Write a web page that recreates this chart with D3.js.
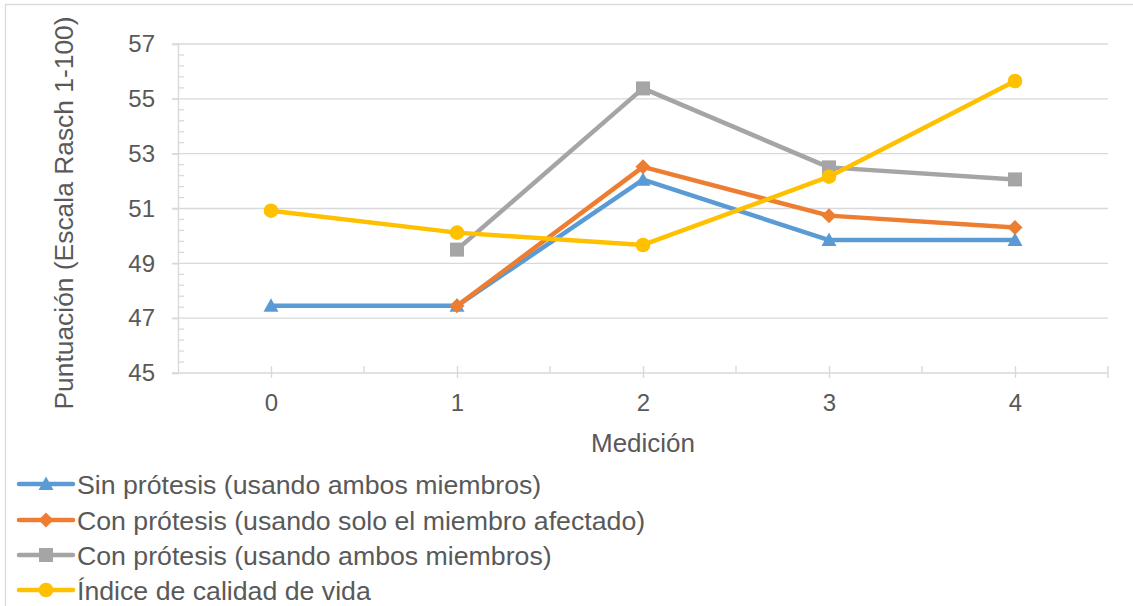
<!DOCTYPE html>
<html><head><meta charset="utf-8">
<script src="https://cdn.jsdelivr.net/npm/d3@7"></script>
<style>body{margin:0;background:#fff;}svg{display:block;font-family:"Liberation Sans",Arial,sans-serif;}</style>
</head><body>
<svg id="chart" width="1133" height="606"></svg>
<script>
const categories = [0, 1, 2, 3, 4];
const sinProtesis = [47.45, 47.45, 52.05, 49.85, 49.85];
const conProtesisAfectado = [null, 47.45, 52.52, 50.74, 50.31];
const conProtesisAmbos = [null, 49.50, 55.38, 52.50, 52.06];
const indiceCalidad = [50.92, 50.12, 49.67, 52.16, 55.65];
const yTicks = [45, 47, 49, 51, 53, 55, 57];
const seriesNames = ["Sin prótesis (usando ambos miembros)", "Con prótesis (usando solo el miembro afectado)", "Con prótesis (usando ambos miembros)", "Índice de calidad de vida"];

const series = [
  {name: seriesNames[0], values: sinProtesis, color: "#5B9BD5", marker: "triangle"},
  {name: seriesNames[1], values: conProtesisAfectado, color: "#ED7D31", marker: "diamond"},
  {name: seriesNames[2], values: conProtesisAmbos, color: "#A5A5A5", marker: "square"},
  {name: seriesNames[3], values: indiceCalidad, color: "#FFC000", marker: "circle"}
];

const svg = d3.select("#chart");
const textColor = "#595959", gridColor = "#d9d9d9";

svg.append("rect").attr("x", 5.5).attr("y", 4.5).attr("width", 1150).attr("height", 640)
  .attr("fill", "#fff").attr("stroke", gridColor).attr("stroke-width", 1.3);

const x = d3.scaleLinear().domain([-0.5, 4.5]).range([178, 1108]);
const y = d3.scaleLinear().domain([45, 57]).range([373, 44]);

// gridlines
svg.append("g").selectAll("line").data(yTicks.filter(t => t !== 45)).join("line")
  .attr("x1", 172).attr("x2", 1108).attr("y1", d => y(d)).attr("y2", d => y(d))
  .attr("stroke", gridColor).attr("stroke-width", 1.4);

// y axis
const yAxis = d3.axisLeft(y).tickValues(yTicks).tickSize(6).tickPadding(17).tickFormat(d3.format("d"));
const gy = svg.append("g").attr("transform", "translate(178,0)").call(yAxis);
gy.select(".domain").attr("stroke", gridColor).attr("stroke-width", 1.4);
gy.selectAll(".tick line").attr("stroke", gridColor).attr("stroke-width", 1.4);
gy.selectAll(".tick text").attr("fill", textColor).attr("font-size", 24).attr("font-family", "Liberation Sans, Arial, sans-serif");
const minorY = d3.range(45, 57.001, 0.4).filter(v => Math.abs((v - 45) % 2) > 0.01 && Math.abs((v - 45) % 2 - 2) > 0.01);
svg.append("g").selectAll("line").data(minorY).join("line")
  .attr("x1", 178).attr("x2", 184).attr("y1", d => y(d)).attr("y2", d => y(d))
  .attr("stroke", gridColor).attr("stroke-width", 1.3);

// x axis
const xAxis = d3.axisBottom(x).tickValues(categories).tickSize(5).tickPadding(16).tickFormat(d3.format("d"));
const gx = svg.append("g").attr("transform", "translate(0,373)").call(xAxis);
gx.select(".domain").attr("stroke", gridColor).attr("stroke-width", 1.4).attr("d", "M172,0H1108");
gx.selectAll(".tick line").attr("stroke", gridColor).attr("stroke-width", 1.4).attr("y1", -7);
gx.selectAll(".tick text").attr("fill", textColor).attr("font-size", 24).attr("font-family", "Liberation Sans, Arial, sans-serif");
const minorX = [0.5, 1.5, 2.5, 3.5];
svg.append("g").selectAll("line").data(minorX).join("line")
  .attr("x1", d => x(d)).attr("x2", d => x(d)).attr("y1", 366).attr("y2", 373)
  .attr("stroke", gridColor).attr("stroke-width", 1.3);
svg.append("line").attr("x1", x(4.5)).attr("x2", x(4.5)).attr("y1", 366).attr("y2", 378)
  .attr("stroke", gridColor).attr("stroke-width", 1.4);

// axis titles
svg.append("text").attr("x", 643).attr("y", 452).attr("text-anchor", "middle")
  .attr("font-size", 26).attr("fill", textColor).text("Medición");
svg.append("text").attr("transform", "translate(73,213) rotate(-90)").attr("text-anchor", "middle")
  .attr("font-size", 26.4).attr("fill", textColor).text("Puntuación (Escala Rasch 1-100)");

// markers
function drawMarker(g, type, cx, cy, color) {
  if (type === "triangle") {
    g.append("path").attr("d", `M${cx},${cy-7.5}L${cx+7.5},${cy+6}L${cx-7.5},${cy+6}Z`).attr("fill", color);
  } else if (type === "diamond") {
    g.append("path").attr("d", `M${cx},${cy-7.5}L${cx+7.5},${cy}L${cx},${cy+7.5}L${cx-7.5},${cy}Z`).attr("fill", color);
  } else if (type === "square") {
    g.append("rect").attr("x", cx-7).attr("y", cy-7).attr("width", 14).attr("height", 14).attr("fill", color);
  } else {
    g.append("circle").attr("cx", cx).attr("cy", cy).attr("r", 7.3).attr("fill", color);
  }
}

const line = d3.line().defined(d => d.v !== null).x(d => x(d.c)).y(d => y(d.v));
series.forEach(s => {
  const pts = categories.map((c, i) => ({c, v: s.values[i]}));
  const g = svg.append("g");
  g.append("path").datum(pts).attr("d", line).attr("fill", "none")
    .attr("stroke", s.color).attr("stroke-width", 4.5).attr("stroke-linejoin", "round").attr("stroke-linecap", "round");
  pts.filter(p => p.v !== null).forEach(p => drawMarker(g, s.marker, x(p.c), y(p.v), s.color));
});

// legend
const legY = [484, 520, 555, 590];
series.forEach((s, i) => {
  const g = svg.append("g");
  g.append("line").attr("x1", 19).attr("x2", 73).attr("y1", legY[i]).attr("y2", legY[i])
    .attr("stroke", s.color).attr("stroke-width", 4.5).attr("stroke-linecap", "round");
  drawMarker(g, s.marker, 46, legY[i], s.color);
  g.append("text").attr("x", 77).attr("y", legY[i] + 10).attr("font-size", 26.7)
    .attr("fill", textColor).text(s.name);
});
</script>
</body></html>
